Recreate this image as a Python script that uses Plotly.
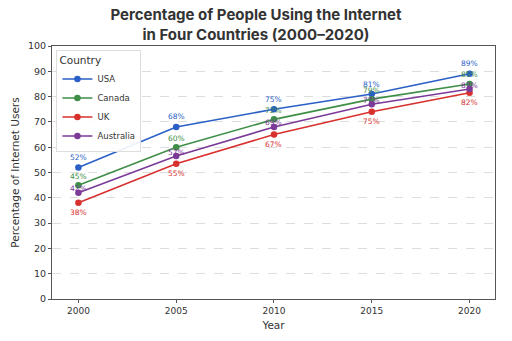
import plotly.graph_objects as go

years = [2000, 2005, 2010, 2015, 2020]
countries = ["USA", "Canada", "UK", "Australia"]
usa = [52, 68, 75, 81, 89]
canada = [45, 60, 71, 79, 85]
uk = [38, 53.5, 65, 74, 81.5]
australia = [42, 56.5, 68, 77, 83]
usa_labels = [52, 68, 75, 81, 89]
canada_labels = [45, 60, 72, 79, 85]
uk_labels = [38, 55, 67, 75, 82]
australia_labels = [42, 57, 69, 77, 83]

series = [usa, canada, uk, australia]
label_vals = [usa_labels, canada_labels, uk_labels, australia_labels]
colors = ["#2a5fc6", "#3e8e47", "#d7302d", "#7b3a98"]
label_shift = [10, 9, -10, 4]

fig = go.Figure()
annotations = []
for name, vals, labs, col, sh in zip(countries, series, label_vals, colors, label_shift):
    fig.add_trace(go.Scatter(
        x=years, y=vals, name=name, mode="lines+markers",
        line=dict(color=col, width=1.6),
        marker=dict(color=col, size=6.5),
    ))
    for x, y, t in zip(years, vals, labs):
        annotations.append(dict(
            x=x, y=y, text=f"{t}%", showarrow=False, yshift=sh,
            font=dict(size=7.5, color=col, family="DejaVu Sans"),
            xref="x", yref="y",
        ))

fig.update_layout(
    width=512, height=341,
    margin=dict(l=52, r=17, t=46, b=40),
    paper_bgcolor="white", plot_bgcolor="white",
    title=dict(
        text="<b>Percentage of People Using the Internet<br>in Four Countries (2000–2020)</b>",
        x=0.5, xanchor="center", y=0.94, yanchor="top",
        font=dict(family="Inter", size=15, color="#333333"),
    ),
    font=dict(family="DejaVu Sans", size=10, color="#333333"),
    annotations=annotations,
    showlegend=True,
    legend=dict(
        title=dict(text="Country", font=dict(size=10.5, color="#333333")),
        x=0.01, y=0.985, xanchor="left", yanchor="top",
        bgcolor="rgba(255,255,255,0.9)", bordercolor="#dddddd", borderwidth=1,
        font=dict(size=8.5, color="#333333"),
        itemwidth=30, tracegroupgap=0,
    ),
)
fig.update_xaxes(
    range=[1998.65, 2021.3], tickvals=years, ticktext=[str(y) for y in years],
    showgrid=False, showline=True, linecolor="#555555", linewidth=1, mirror=True,
    ticks="outside", ticklen=3, tickcolor="#555555", tickfont=dict(size=9),
    title=dict(text="Year", font=dict(size=10.5), standoff=6), zeroline=False,
)
fig.update_yaxes(
    range=[0, 100], dtick=10,
    showgrid=True, gridcolor="#dddddd", griddash="dash", gridwidth=1,
    showline=True, linecolor="#555555", linewidth=1, mirror=True,
    ticks="outside", ticklen=3, tickcolor="#555555", tickfont=dict(size=9.5),
    title=dict(text="Percentage of Internet Users", font=dict(size=10.5), standoff=6),
    zeroline=False,
)
fig.write_html("out.html")
